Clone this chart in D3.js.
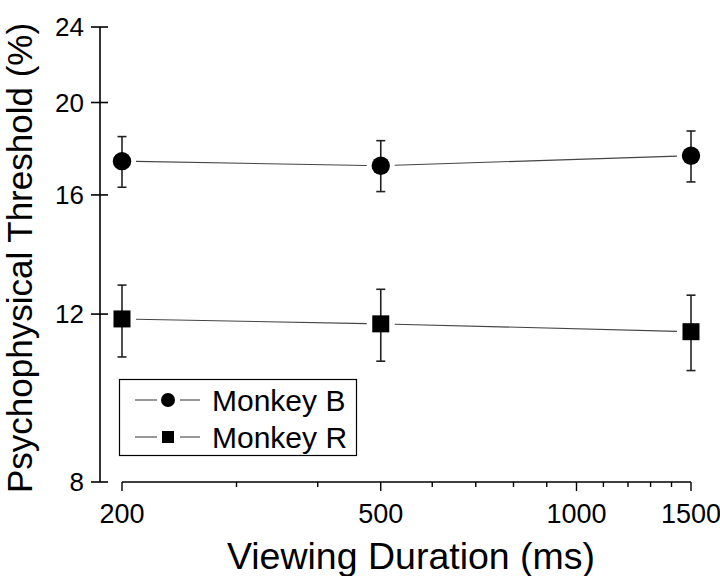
<!DOCTYPE html>
<html>
<head>
<meta charset="utf-8">
<script src="https://cdn.jsdelivr.net/npm/d3@7"></script>
<style>
  body { margin: 0; background: #fff; }
  text { font-family: "Liberation Sans", Arial, sans-serif; fill: #000; }
</style>
</head>
<body>
<div id="chart"></div>
<script>
var durations = [200, 500, 1500];
var monkeyB = [17.36, 17.17, 17.59];
var monkeyBLow = [16.30, 16.13, 16.51];
var monkeyBHigh = [18.42, 18.24, 18.67];
var monkeyR = [11.86, 11.72, 11.50];
var monkeyRLow = [10.82, 10.71, 10.47];
var monkeyRHigh = [12.87, 12.74, 12.56];
var yTicks = [8, 12, 16, 20, 24];
var xTicks = [200, 300, 400, 500, 600, 700, 800, 900, 1000, 1100, 1200, 1300, 1400, 1500];
var xLabels = [200, 500, 1000, 1500];

var width = 720, height = 576;
var svg = d3.select("#chart").append("svg").attr("width", width).attr("height", height);

var x = d3.scaleLog().domain([200, 1500]).range([122, 691]);
var y = d3.scaleLog().domain([8, 24]).range([482, 27]);

// y axis: ticks cross the line
var yAxis = svg.append("g").attr("transform", "translate(100,0)");
yAxis.append("line").attr("y1", y(24)).attr("y2", y(8)).attr("stroke", "#000").attr("stroke-width", 1.6);
yTicks.forEach(function(t) {
  yAxis.append("line").attr("x1", -9).attr("x2", 8).attr("y1", y(t)).attr("y2", y(t))
    .attr("stroke", "#000").attr("stroke-width", 1.6);
  yAxis.append("text").attr("x", -16).attr("y", y(t)).attr("dy", "0.36em")
    .attr("text-anchor", "end").attr("font-size", 26).text(t);
});

// x axis, offset from the y axis
var xAxis = svg.append("g").attr("transform", "translate(0,482)");
xAxis.append("line").attr("x1", x(200)).attr("x2", x(1500)).attr("stroke", "#000").attr("stroke-width", 1.6);
xTicks.forEach(function(t) {
  var major = xLabels.indexOf(t) >= 0;
  xAxis.append("line").attr("x1", x(t)).attr("x2", x(t)).attr("y1", 0).attr("y2", major ? 9 : 5)
    .attr("stroke", "#000").attr("stroke-width", 1.4);
});
xLabels.forEach(function(t) {
  xAxis.append("text").attr("x", x(t)).attr("y", 41).attr("text-anchor", "middle")
    .attr("font-size", 27).text(t);
});

svg.append("text").attr("x", 411).attr("y", 569).attr("text-anchor", "middle")
  .attr("font-size", 37.5).text("Viewing Duration (ms)");
svg.append("text").attr("transform", "translate(32,258) rotate(-90)").attr("text-anchor", "middle")
  .attr("font-size", 35).text("Psychophysical Threshold (%)");

function drawSeries(vals, lows, highs, shape) {
  var g = svg.append("g");
  var gap = 14;
  for (var i = 0; i < vals.length - 1; i++) {
    var x0 = x(durations[i]), y0 = y(vals[i]), x1 = x(durations[i + 1]), y1 = y(vals[i + 1]);
    var len = Math.hypot(x1 - x0, y1 - y0), ux = (x1 - x0) / len, uy = (y1 - y0) / len;
    g.append("line").attr("x1", x0 + ux * gap).attr("y1", y0 + uy * gap)
      .attr("x2", x1 - ux * gap).attr("y2", y1 - uy * gap)
      .attr("stroke", "#444").attr("stroke-width", 1.1);
  }
  durations.forEach(function(d, i) {
    var cx = x(d);
    g.append("line").attr("x1", cx).attr("x2", cx).attr("y1", y(highs[i])).attr("y2", y(lows[i]))
      .attr("stroke", "#222").attr("stroke-width", 1.6);
    [highs[i], lows[i]].forEach(function(v) {
      g.append("line").attr("x1", cx - 4.5).attr("x2", cx + 4.5).attr("y1", y(v)).attr("y2", y(v))
        .attr("stroke", "#222").attr("stroke-width", 1.6);
    });
    if (shape === "circle") {
      g.append("circle").attr("cx", cx).attr("cy", y(vals[i])).attr("r", 9.2).attr("fill", "#000");
    } else {
      g.append("rect").attr("x", cx - 8.5).attr("y", y(vals[i]) - 8.5).attr("width", 17).attr("height", 17).attr("fill", "#000");
    }
  });
}
drawSeries(monkeyB, monkeyBLow, monkeyBHigh, "circle");
drawSeries(monkeyR, monkeyRLow, monkeyRHigh, "square");

// legend
var legend = svg.append("g");
legend.append("rect").attr("x", 119.5).attr("y", 379.5).attr("width", 237).attr("height", 76)
  .attr("fill", "#fff").attr("stroke", "#000").attr("stroke-width", 1.2);
var entries = [{name: "Monkey B", shape: "circle", cy: 400}, {name: "Monkey R", shape: "square", cy: 437}];
entries.forEach(function(e) {
  legend.append("line").attr("x1", 135).attr("x2", 157).attr("y1", e.cy).attr("y2", e.cy).attr("stroke", "#444").attr("stroke-width", 1.1);
  legend.append("line").attr("x1", 180).attr("x2", 200).attr("y1", e.cy).attr("y2", e.cy).attr("stroke", "#444").attr("stroke-width", 1.1);
  if (e.shape === "circle") {
    legend.append("circle").attr("cx", 168).attr("cy", e.cy).attr("r", 7).attr("fill", "#000");
  } else {
    legend.append("rect").attr("x", 162).attr("y", e.cy - 6).attr("width", 12).attr("height", 12).attr("fill", "#000");
  }
  legend.append("text").attr("x", 212).attr("y", e.cy).attr("dy", "0.36em").attr("font-size", 30).text(e.name);
});
</script>
</body>
</html>
